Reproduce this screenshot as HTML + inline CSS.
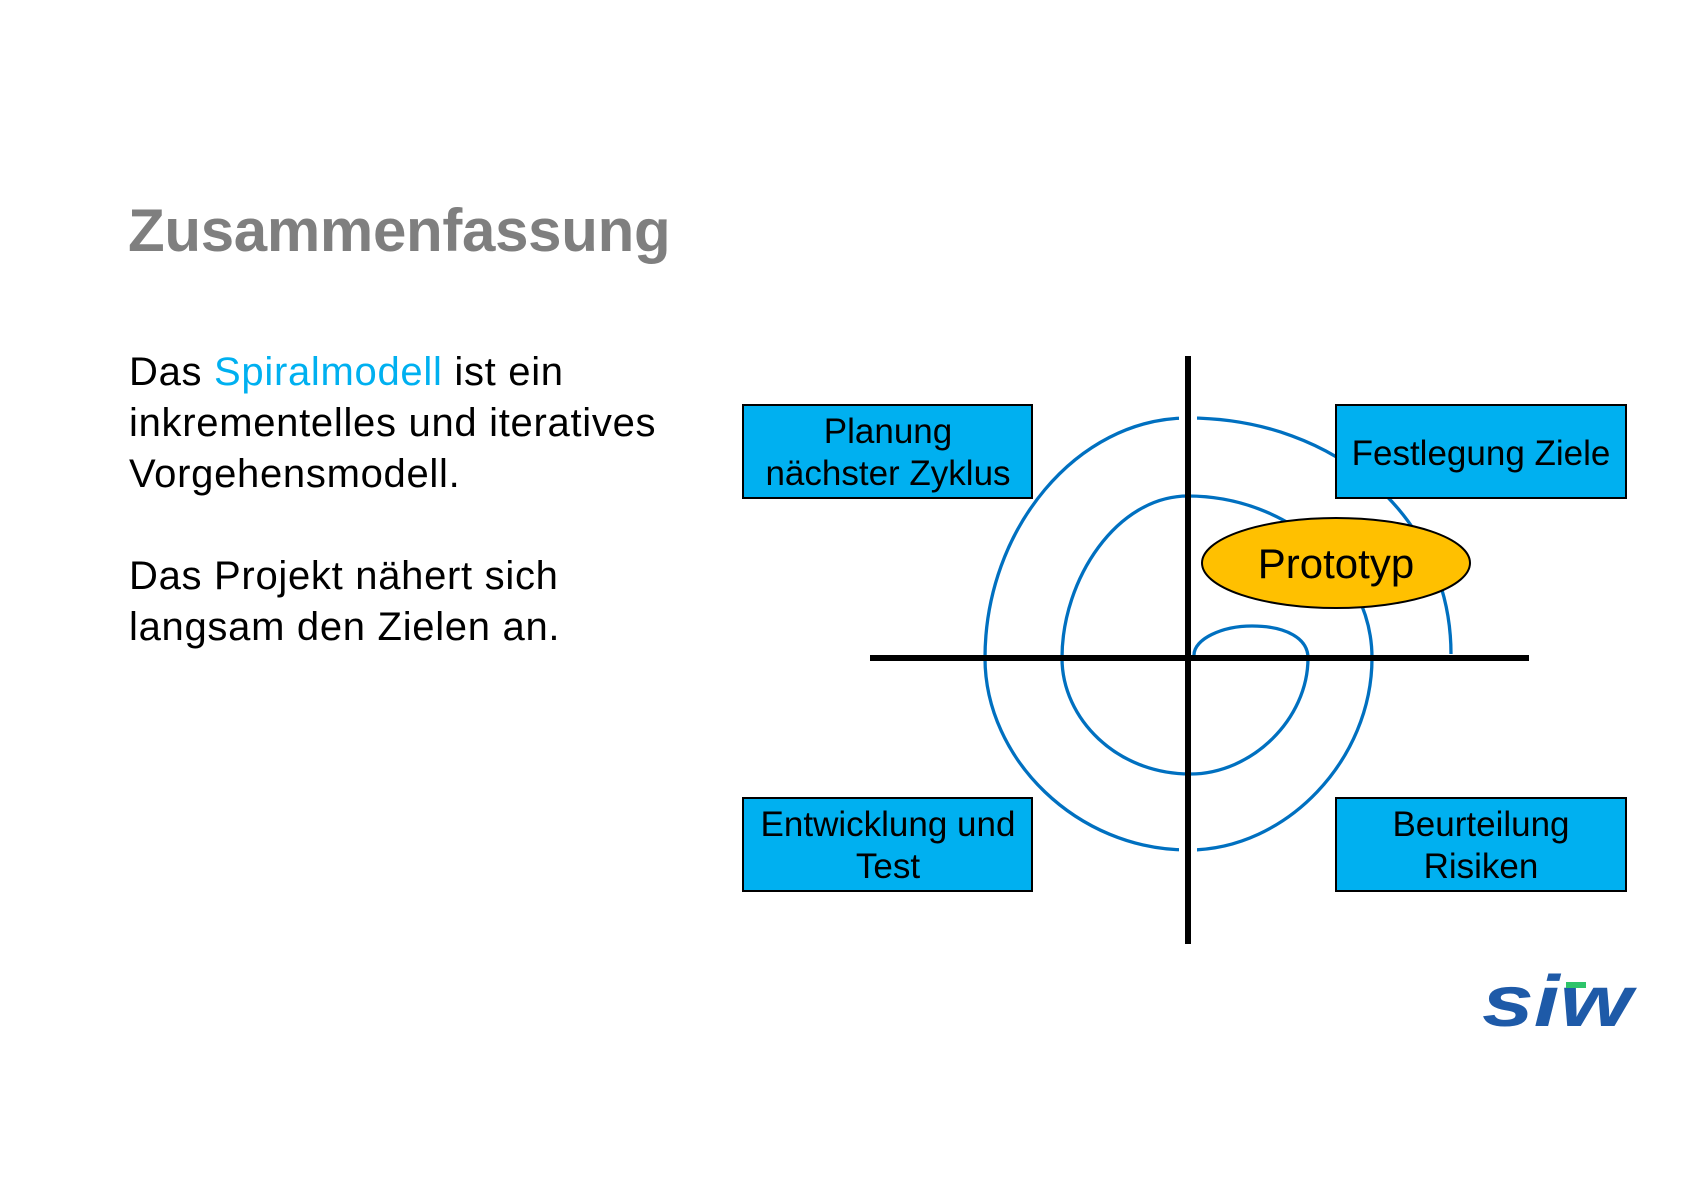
<!DOCTYPE html>
<html><head><meta charset="utf-8"><style>
body{margin:0;width:1683px;height:1190px;background:#fff;position:relative;overflow:hidden;font-family:"Liberation Sans",sans-serif}
.t{position:absolute;left:128px;top:196px;font-size:60px;font-weight:bold;color:#7f7f7f;letter-spacing:-0.3px}
.p{position:absolute;left:129px;font-size:40px;line-height:51px;color:#000;letter-spacing:0.7px}
</style></head><body>
<div class="t">Zusammenfassung</div>
<div class="p" style="top:347px">Das <span style="color:#00b0f0">Spiralmodell</span> ist ein<br>inkrementelles und iteratives<br>Vorgehensmodell.</div>
<div class="p" style="top:551px">Das Projekt nähert sich<br>langsam den Zielen an.</div>
<svg width="1683" height="1190" style="position:absolute;left:-3px;top:-1px" font-family="Liberation Sans, sans-serif">
<path d="M1197,656 C1197,640 1225,627 1255,627 C1290,627 1311,640 1311,659 C1311,720 1255,775 1193,775 C1120,775 1065,720 1065,659 C1065,580 1120,497 1191,497 C1290,497 1375,570 1375,659 C1375,760 1290,851 1191,851 C1080,851 988,760 988,659 C988,530 1080,419 1191,419 C1340,419 1454,520 1454,655" fill="none" stroke="#0070c0" stroke-width="3.3"/>
<rect x="1182" y="410" width="18" height="18" fill="#fff"/>
<rect x="1182" y="842" width="18" height="18" fill="#fff"/>
<line x1="1191" y1="357" x2="1191" y2="945" stroke="#000" stroke-width="6"/>
<line x1="873" y1="659" x2="1532" y2="659" stroke="#000" stroke-width="6"/>
<g stroke="#000" stroke-width="2" fill="#00b0f0">
<rect x="746" y="406" width="289" height="93"/>
<rect x="1339" y="406" width="290" height="93"/>
<rect x="746" y="799" width="289" height="93"/>
<rect x="1339" y="799" width="290" height="93"/>
<ellipse cx="1339" cy="564" rx="134" ry="45" fill="#ffc000"/>
</g>
<g font-size="35" text-anchor="middle" fill="#000">
<text x="891" y="444">Planung</text><text x="891" y="486">nächster Zyklus</text>
<text x="1484" y="466">Festlegung Ziele</text>
<text x="891" y="837">Entwicklung und</text><text x="891" y="879">Test</text>
<text x="1484" y="837">Beurteilung</text><text x="1484" y="879">Risiken</text>
<text x="1339" y="579" font-size="42">Prototyp</text>
</g>
</svg>
<svg width="1683" height="1190" style="position:absolute;left:0;top:0" font-family="Liberation Sans, sans-serif">
<text x="1482" y="1026" font-size="72" font-weight="bold" font-style="italic" fill="#1e5aa8" textLength="150" lengthAdjust="spacingAndGlyphs">siw</text>
<rect x="1566" y="982" width="20" height="6" fill="#2ec46a"/>
</svg>
</body></html>
